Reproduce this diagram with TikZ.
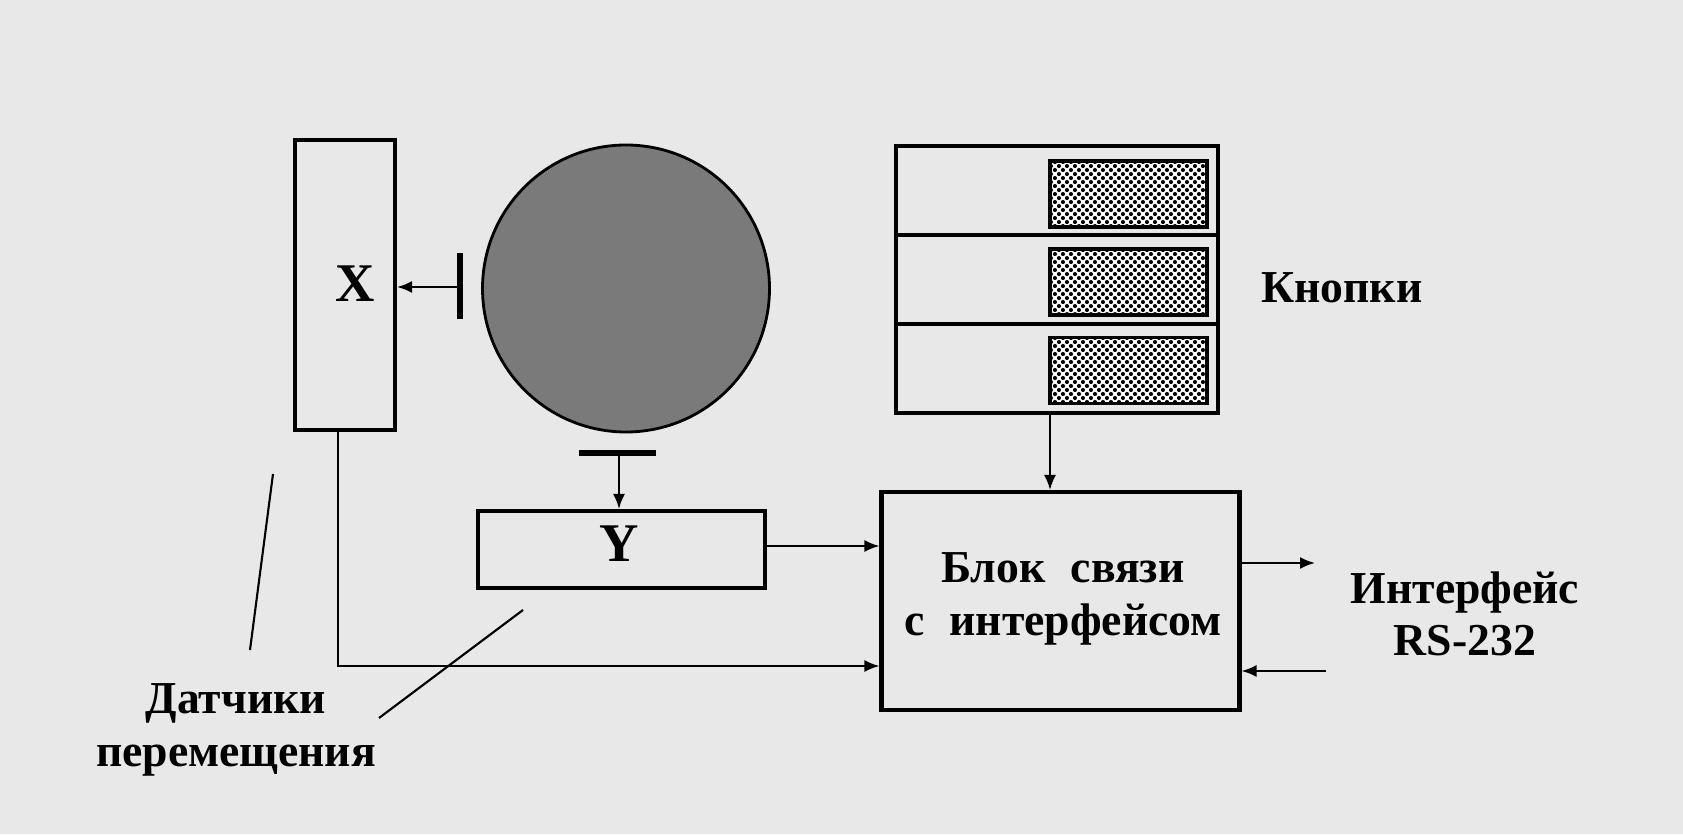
\documentclass[tikz,border=0pt]{standalone}
\usepackage{fontspec}
\setmainfont{Liberation Serif}
\usetikzlibrary{positioning,arrows.meta,patterns}
\pgfdeclarepatternformonly{bigdots}{\pgfpointorigin}{\pgfpoint{2.4pt}{2.4pt}}{\pgfpoint{2.4pt}{2.4pt}}{%
    \pgfpathcircle{\pgfpoint{0.6pt}{0.6pt}}{0.62pt}%
    \pgfpathcircle{\pgfpoint{1.8pt}{1.8pt}}{0.62pt}%
    \pgfusepath{fill}}
\begin{document}
\begin{tikzpicture}[
    box/.style={rectangle, draw, line width=1.15pt, inner sep=0pt},
    row/.style={rectangle, draw, line width=1.4pt, outer sep=0pt, minimum width=32.2mm, minimum height=8.9mm, inner sep=0pt},
    pad/.style={rectangle, draw, line width=0.9pt, fill=white, postaction={pattern=bigdots}, minimum width=15.7mm, minimum height=6.6mm, inner sep=0pt},
    bar/.style={line width=1.8pt},
    wire/.style={line width=0.6pt},
    arr/.style={wire, -{Latex[length=1.5mm,width=1.2mm]}},
    lbl/.style={font=\fontsize{13}{14}\selectfont\bfseries, align=center},
    axis/.style={font=\fontsize{15.5}{16}\selectfont\bfseries}
]
\fill[black!9] (0,0) rectangle (16.83,8.34);
\useasboundingbox (0,0) rectangle (16.83,8.34);

% sensors and ball
\node[box, minimum width=10mm, minimum height=29mm] (xs) at (3.45,5.49) {};
\node[axis] (xl) at (3.55,5.50) {X};
\node[circle, draw, line width=0.8pt, fill=black!52, minimum size=28.7mm, inner sep=0pt] (ball) at (6.26,5.455) {};
\draw[bar] (4.60,5.81) -- (4.60,5.15);
\coordinate (xb) at (4.60,5.47);
\draw[bar] (5.79,3.81) -- (6.56,3.81);
\coordinate (yb) at (6.19,3.81);
\node[box, minimum width=28.7mm, minimum height=7.7mm] (ys) at (6.215,2.845) {};
\node[axis] (yl) at (6.19,2.90) {Y};

% buttons
\node[row] (r1) at (10.57,6.435) {};
\node[row, below=0mm of r1] (r2) {};
\node[row, below=0mm of r2] (r3) {};
\node[pad] (p1) at (11.285,6.40) {};
\node[pad] (p2) at (11.285,5.52) {};
\node[pad] (p3) at (11.285,4.635) {};
\node[lbl] (kn) at (13.42,5.46) {Кнопки};

% interface block
\node[box, minimum width=35.8mm, minimum height=21.8mm] (link) at (10.605,2.33) {};
\node[lbl] (lt) at (10.63,2.35) {Блок\hspace{0.55em}связи\\[1pt]с\hspace{0.55em}интерфейсом};
\node[lbl] (rs) at (14.65,2.20) {Интерфейс\\[1pt]RS-232};
\node[lbl] (ds) at (2.36,1.04) {Датчики\\[1pt]перемещения};

% connectors
\draw[arr] (xb) -- (xs.east |- xb);
\draw[arr] (yb) -- (yb |- ys.north);
\draw[arr] (ys.east |- 0,2.88) -- (link.west |- 0,2.88);
\coordinate (xd) at (3.38,1.68);
\draw[arr] (xs.south -| xd) -- (xd) -- (link.west |- xd);
\draw[arr] (r3.south -| 10.50,0) -- (link.north -| 10.50,0);
\coordinate (outp) at (13.15,2.71);
\coordinate (inp) at (13.26,1.63);
\draw[arr] (link.east |- outp) -- (outp);
\draw[arr] (inp) -- (link.east |- inp);
\coordinate (d1) at (2.73,3.60);
\coordinate (d2) at (5.23,2.24);
\draw[wire] (2.50,1.84) -- (d1);
\draw[wire] (3.79,1.16) -- (d2);
\end{tikzpicture}
\end{document}
